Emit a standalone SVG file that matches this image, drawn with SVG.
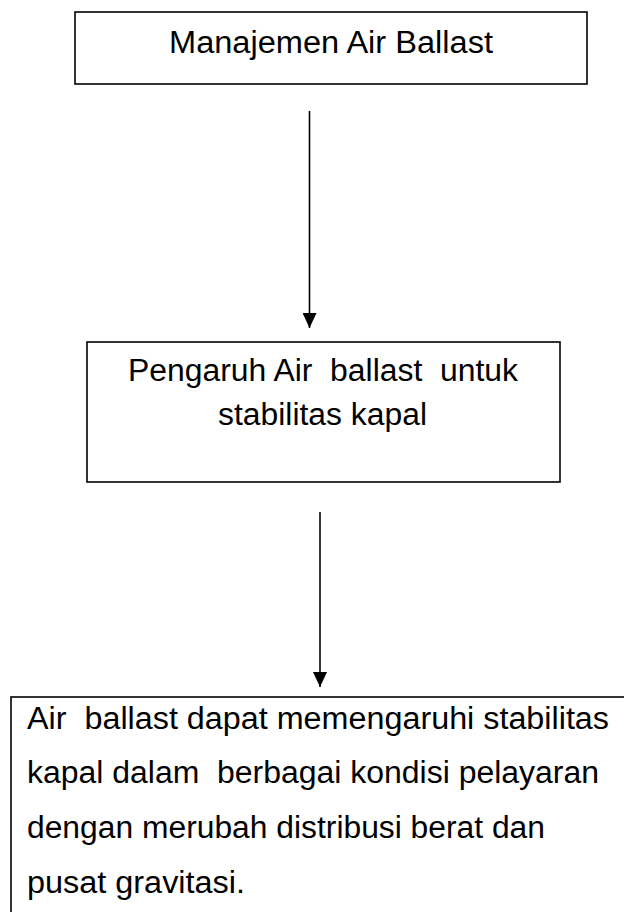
<svg xmlns="http://www.w3.org/2000/svg" width="624" height="912" viewBox="0 0 624 912">
  <style>
    .box { fill: #ffffff; stroke: #000000; stroke-width: 1.6; }
    .t { font-family: "Liberation Sans", Arial, sans-serif; font-size: 31px; fill: #000000; }
    .conn { stroke: #000000; stroke-width: 1.6; fill: none; }
  </style>
  <defs>
    <marker id="arrow" viewBox="0 0 15 14" refX="15" refY="7" markerWidth="15" markerHeight="14" markerUnits="userSpaceOnUse" orient="auto">
      <path d="M0,0 L15,7 L0,14 Z" fill="#000000"/>
    </marker>
  </defs>
  <rect x="0" y="0" width="624" height="912" fill="#ffffff"/>
  <g id="node-manajemen">
    <rect class="box" x="75" y="12" width="512" height="72"/>
    <text class="t" x="169" y="53" textLength="324" lengthAdjust="spacingAndGlyphs">Manajemen Air Ballast</text>
  </g>
  <g id="node-pengaruh">
    <rect class="box" x="87" y="342" width="473" height="140"/>
    <text class="t" x="128" y="381" textLength="390" lengthAdjust="spacingAndGlyphs" xml:space="preserve">Pengaruh Air  ballast  untuk</text>
    <text class="t" x="218" y="425" textLength="209" lengthAdjust="spacingAndGlyphs">stabilitas kapal</text>
  </g>
  <g id="node-kesimpulan">
    <rect class="box" x="11" y="697" width="640" height="300" stroke-width="2"/>
    <text class="t" x="27" y="729" textLength="582" lengthAdjust="spacingAndGlyphs" xml:space="preserve">Air  ballast dapat memengaruhi stabilitas</text>
    <text class="t" x="27" y="783" textLength="572" lengthAdjust="spacingAndGlyphs" xml:space="preserve">kapal dalam  berbagai kondisi pelayaran</text>
    <text class="t" x="27" y="838" textLength="518" lengthAdjust="spacingAndGlyphs">dengan merubah distribusi berat dan</text>
    <text class="t" x="27" y="893" textLength="218" lengthAdjust="spacingAndGlyphs">pusat gravitasi.</text>
  </g>
  <g id="connectors">
    <line class="conn" x1="309.5" y1="111" x2="309.5" y2="328" marker-end="url(#arrow)"/>
    <line class="conn" x1="320" y1="512" x2="320" y2="687" marker-end="url(#arrow)"/>
  </g>
</svg>
